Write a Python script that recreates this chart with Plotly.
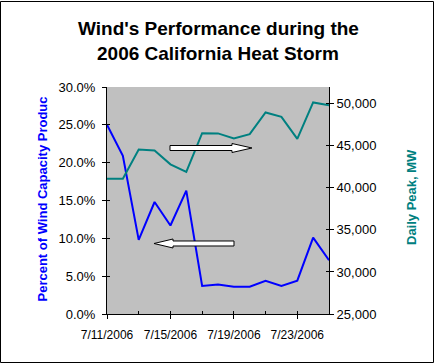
import plotly.graph_objects as go

dates = ["2006-07-11", "2006-07-12", "2006-07-13", "2006-07-14", "2006-07-15",
         "2006-07-16", "2006-07-17", "2006-07-18", "2006-07-19", "2006-07-20",
         "2006-07-21", "2006-07-22", "2006-07-23", "2006-07-24", "2006-07-25"]
wind_pct = [0.250, 0.209, 0.098, 0.148, 0.117, 0.163, 0.037, 0.039, 0.036, 0.036,
            0.044, 0.037, 0.044, 0.101, 0.071]
peak_mw = [41100, 41100, 44560, 44440, 42800, 41900, 46500, 46480, 45870, 46390,
           48970, 48450, 45830, 50160, 49840]

title_lines = ["Wind's Performance during the", "2006 California Heat Storm"]
left_title = "Percent of Wind Capacity Produc"
right_title = "Daily Peak, MW"

W, H = 435, 364
L, R, T, B = 107, 329, 87, 314
FONT = "Liberation Sans, Arial, sans-serif"
DAY = 86400000


def px(x):
    return (x - L) / (R - L)


def py(y):
    return (B - y) / (B - T)


def path(points):
    return "M " + " L ".join(f"{px(x):.5f},{py(y):.5f}" for x, y in points) + " Z"


fig = go.Figure()
fig.add_trace(go.Scatter(x=dates, y=wind_pct, mode="lines",
                         line=dict(color="#0000FF", width=2), yaxis="y",
                         showlegend=False, hoverinfo="skip"))
fig.add_trace(go.Scatter(x=dates, y=peak_mw, mode="lines",
                         line=dict(color="#008080", width=2), yaxis="y2",
                         showlegend=False, hoverinfo="skip"))
# empty traces to carry the inner-tick overlay axes
fig.add_trace(go.Scatter(x=[], y=[], xaxis="x3", yaxis="y3", showlegend=False, hoverinfo="skip"))
fig.add_trace(go.Scatter(x=[], y=[], xaxis="x3", yaxis="y4", showlegend=False, hoverinfo="skip"))

xr = ["2006-07-11", "2006-07-25"]
tickfont = dict(family=FONT, size=13, color="black")

fig.update_layout(
    width=W, height=H,
    margin=dict(l=L, r=W - R, t=T, b=H - B, pad=0),
    paper_bgcolor="white", plot_bgcolor="#C0C0C0",
    showlegend=False, hovermode=False,
    xaxis=dict(type="date", range=xr, tick0="2006-07-11", dtick=4 * DAY,
               tickformat="%-m/%-d/%Y", ticks="outside", ticklen=4, tickcolor="black",
               showline=True, linecolor="black", linewidth=1, showgrid=False,
               zeroline=False, tickfont=dict(family=FONT, size=12, color="black"),
               ticklabelstandoff=6, fixedrange=True),
    yaxis=dict(range=[0, 0.30], dtick=0.05, tickformat=".1%", ticks="outside",
               ticklen=4, tickcolor="black", showline=True, linecolor="black",
               linewidth=1, showgrid=False, zeroline=False, tickfont=tickfont,
               ticklabelstandoff=4, fixedrange=True),
    yaxis2=dict(range=[25000, 52000], dtick=5000, tick0=25000, tickformat=",d",
                overlaying="y", side="right", anchor="x", ticks="outside", ticklen=4,
                tickcolor="black", showline=True, linecolor="black", linewidth=1,
                showgrid=False, zeroline=False, tickfont=tickfont, fixedrange=True),
    xaxis3=dict(type="date", range=xr, tick0="2006-07-11", dtick=2 * DAY,
                overlaying="x", anchor="y", ticks="inside", ticklen=3,
                tickcolor="black", showticklabels=False, showline=False,
                showgrid=False, zeroline=False, fixedrange=True),
    yaxis3=dict(range=[0, 0.30], dtick=0.05, overlaying="y", side="left", anchor="x",
                ticks="inside", ticklen=3, tickcolor="black", showticklabels=False,
                showline=False, showgrid=False, zeroline=False, fixedrange=True),
    yaxis4=dict(range=[25000, 52000], dtick=5000, tick0=25000, overlaying="y",
                side="right", anchor="x", ticks="inside", ticklen=3,
                tickcolor="black", showticklabels=False, showline=False,
                showgrid=False, zeroline=False, fixedrange=True),
)

annotations = [
    dict(text=f"<b>{title_lines[0]}</b>", x=0.5, xref="paper", y=py(28.5), yref="paper",
         xanchor="center", yanchor="middle", showarrow=False,
         font=dict(family=FONT, size=19, color="black")),
    dict(text=f"<b>{title_lines[1]}</b>", x=0.5, xref="paper", y=py(54), yref="paper",
         xanchor="center", yanchor="middle", showarrow=False,
         font=dict(family=FONT, size=19, color="black")),
    dict(text=f"<b>{left_title}</b>", x=px(41.5), xref="paper", y=py(199), yref="paper",
         xanchor="center", yanchor="middle", textangle=-90, showarrow=False,
         font=dict(family=FONT, size=13, color="#0000FF")),
    dict(text=f"<b>{right_title}</b>", x=px(411), xref="paper", y=py(197), yref="paper",
         xanchor="center", yanchor="middle", textangle=-90, showarrow=False,
         font=dict(family=FONT, size=13, color="#008080")),
]
fig.update_layout(annotations=annotations)

right_arrow = [(170, 145.5), (232, 145.5), (232, 143.5), (252, 148), (232, 152.5),
               (232, 150.5), (170, 150.5)]
left_arrow = [(234, 241), (173, 241), (173, 239), (154, 243.5), (173, 248),
              (173, 246), (234, 246)]

shapes = [
    dict(type="path", path=path(right_arrow), xref="paper", yref="paper",
         fillcolor="white", line=dict(color="black", width=1), layer="above"),
    dict(type="path", path=path(left_arrow), xref="paper", yref="paper",
         fillcolor="white", line=dict(color="black", width=1), layer="above"),
    dict(type="rect", xref="paper", yref="paper", x0=px(0.5), x1=px(433.5),
         y0=py(362.5), y1=py(1.5), line=dict(color="black", width=1),
         fillcolor="rgba(0,0,0,0)", layer="above"),
]
fig.update_layout(shapes=shapes)

fig.write_html("out.html",
               config={"displayModeBar": False, "staticPlot": True},
               post_script="document.body.style.margin='0px';"
                           "document.body.style.overflow='hidden';")
